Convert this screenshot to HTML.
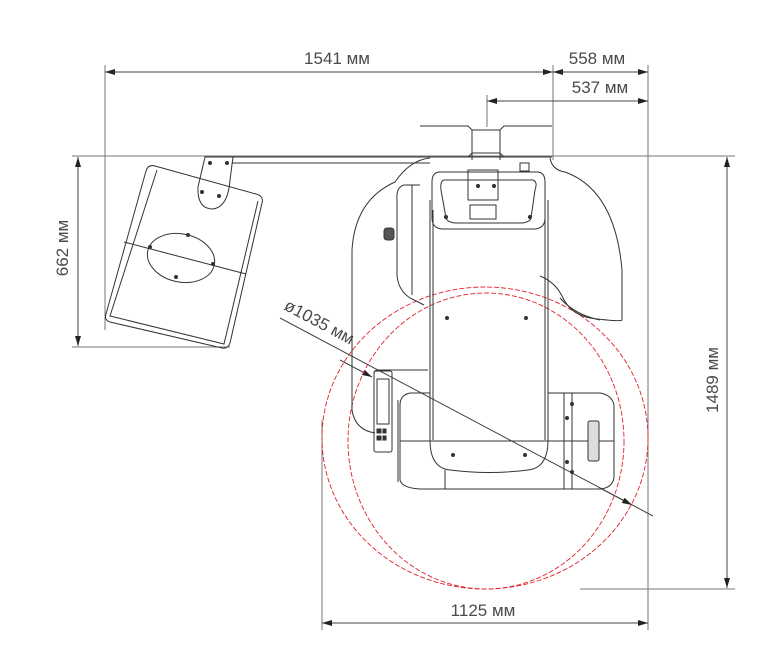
<!DOCTYPE html>
<html><head><meta charset="utf-8"><style>
html,body{margin:0;padding:0;background:#fff;}
svg{display:block;}
text{font-family:"Liberation Sans",sans-serif;fill:#4a4a4a;font-size:17px;}
</style></head><body>
<svg width="775" height="670" viewBox="0 0 775 670" xmlns="http://www.w3.org/2000/svg">
<defs>
<marker id="a" viewBox="0 0 10 6" refX="10" refY="3" markerWidth="10" markerHeight="6" orient="auto-start-reverse" markerUnits="userSpaceOnUse"><path d="M0,0 L10,3 L0,6 z" fill="#222"/></marker>
</defs>
<g stroke="#777" stroke-width="1" fill="none">
<line x1="105" y1="65" x2="105" y2="330"/>
<line x1="553" y1="65" x2="553" y2="160"/>
<line x1="648" y1="65" x2="648" y2="630"/>
<line x1="487" y1="95" x2="487" y2="127"/>
<line x1="72" y1="156" x2="735" y2="156"/>
<line x1="72" y1="347" x2="230" y2="347"/>
<line x1="580" y1="589" x2="735" y2="589"/>
<line x1="322" y1="420" x2="322" y2="630"/>
</g>
<g stroke="#444" stroke-width="1" fill="none">
<line x1="105" y1="72" x2="553" y2="72" marker-start="url(#a)" marker-end="url(#a)"/>
<line x1="553" y1="72" x2="648" y2="72" marker-start="url(#a)" marker-end="url(#a)"/>
<line x1="487" y1="101" x2="648" y2="101" marker-start="url(#a)" marker-end="url(#a)"/>
<line x1="78" y1="157" x2="78" y2="346" marker-start="url(#a)" marker-end="url(#a)"/>
<line x1="727" y1="157" x2="727" y2="588" marker-start="url(#a)" marker-end="url(#a)"/>
<line x1="322" y1="623" x2="648" y2="623" marker-start="url(#a)" marker-end="url(#a)"/>
<line x1="280" y1="318" x2="653" y2="516"/>
<line x1="340" y1="360" x2="372" y2="377" marker-end="url(#a)"/>
<line x1="600" y1="488" x2="632" y2="505" marker-end="url(#a)"/>
</g>
<text x="337" y="64" text-anchor="middle">1541 мм</text>
<text x="597" y="64" text-anchor="middle">558 мм</text>
<text x="600" y="93" text-anchor="middle">537 мм</text>
<text x="483" y="616" text-anchor="middle">1125 мм</text>
<text transform="translate(68,248) rotate(-90)" text-anchor="middle">662 мм</text>
<text transform="translate(718,380) rotate(-90)" text-anchor="middle">1489 мм</text>
<text transform="translate(283,309) rotate(28)">ø1035 мм</text>

<g stroke="#e0202a" stroke-width="0.9" fill="none" stroke-dasharray="5,2">
<ellipse cx="485" cy="438" rx="163" ry="151"/>
<ellipse cx="486" cy="441" rx="138" ry="148"/>
</g>

<g stroke="#333" stroke-width="1" fill="none">
<path d="M420,126 H468 L472,130 H500 L504,126 H552"/>
<path d="M420,157 H468 L472,153 H500 L504,157 H552"/>
<line x1="472" y1="130" x2="472" y2="160"/>
<line x1="500" y1="130" x2="500" y2="160"/>
<line x1="205" y1="157" x2="550" y2="157"/>
<line x1="232" y1="163" x2="430" y2="163"/>
<path d="M155,166 Q148,164 146,171 L106,314 Q104,320 110,322 L222,348 Q228,349 230,343 L262,203 Q264,196 256,194 Z"/>
<path d="M157,170 L110,316 L224,344 L258,201"/>
<path d="M205,157 H233 L230,180 Q228,207 213,209 Q197,209 198,187 Z"/>
<circle cx="210" cy="163" r="1.5" fill="#333"/><circle cx="227" cy="163" r="1.5" fill="#333"/>
<circle cx="202" cy="192" r="1.5" fill="#333"/><circle cx="219" cy="196" r="1.5" fill="#333"/>
<ellipse cx="181" cy="258" rx="34" ry="24" transform="rotate(12 181 258)"/>
<line x1="124" y1="242" x2="246" y2="274"/>
<circle cx="188" cy="235" r="1.5" fill="#333"/><circle cx="150" cy="247" r="1.5" fill="#333"/>
<circle cx="213" cy="264" r="1.5" fill="#333"/><circle cx="176" cy="277" r="1.5" fill="#333"/>
<path d="M430,158 Q410,160 395,182 Q355,200 352,250 V410 Q355,430 375,433"/>
<path d="M550,158 Q552,170 565,172 Q615,190 622,270 V320 Q620,322 590,318 Q570,314 562,296 Q555,282 540,276"/>
<path d="M560,298 Q575,315 600,320"/>
<path d="M420,185 H404 Q396,187 397,200 V275 Q398,290 410,298 L424,305"/>
<path d="M412,185 V295"/>
<rect x="384" y="228" width="10" height="12" rx="3" fill="#555"/>
<path d="M430,200 V440 Q430,468 450,470 Q490,475 528,470 Q548,468 548,440 V200"/>
<line x1="433" y1="210" x2="433" y2="440"/>
<line x1="545" y1="210" x2="545" y2="440"/>
<path d="M440,172 H537 Q545,172 545,182 V218 Q545,228 535,229 H442 Q432,228 432,218 V182 Q432,172 440,172 Z"/>
<path d="M444,180 H533 Q538,182 535,190 L531,218 Q530,222 522,223 H455 Q447,222 446,218 L441,190 Q440,181 444,180 Z"/>
<rect x="468" y="170" width="30" height="30"/>
<rect x="470" y="205" width="26" height="14"/>
<circle cx="478" cy="186" r="1.6" fill="#333"/><circle cx="494" cy="186" r="1.6" fill="#333"/>
<circle cx="446" cy="217" r="1.6" fill="#333"/><circle cx="530" cy="217" r="1.6" fill="#333"/>
<rect x="520" y="163" width="9" height="8"/>
<circle cx="447" cy="318" r="1.5" fill="#333"/><circle cx="526" cy="318" r="1.5" fill="#333"/>
<circle cx="453" cy="455" r="1.5" fill="#333"/><circle cx="525" cy="455" r="1.5" fill="#333"/>
<path d="M430,393 H410 Q400,395 400,405 V480 Q402,488 420,489 H430"/>
<line x1="398" y1="400" x2="398" y2="482"/>
<path d="M548,393 H600 Q612,395 614,405 V478 Q612,488 600,489 H548"/>
<line x1="564" y1="393" x2="564" y2="489"/>
<line x1="572" y1="393" x2="572" y2="489"/>
<line x1="430" y1="489" x2="548" y2="489"/>
<line x1="445" y1="470" x2="445" y2="489"/>
<line x1="400" y1="441" x2="614" y2="441"/>
<rect x="588" y="421" width="11" height="40" rx="2" fill="#ddd"/>
<circle cx="572" cy="404" r="1.5" fill="#333"/><circle cx="567" cy="418" r="1.5" fill="#333"/>
<circle cx="567" cy="462" r="1.5" fill="#333"/><circle cx="572" cy="472" r="1.5" fill="#333"/>
<path d="M374,374 Q374,370 378,370 H428"/>
<rect x="374" y="371" width="18" height="81" rx="2"/>
<rect x="377" y="379" width="12" height="45"/>
<rect x="377" y="429" width="4" height="4" fill="#333"/><rect x="383" y="429" width="3" height="4" fill="#333"/>
<rect x="377" y="436" width="4" height="4" fill="#333"/><rect x="383" y="436" width="3" height="4" fill="#333"/>
</g>
</svg>
</body></html>
